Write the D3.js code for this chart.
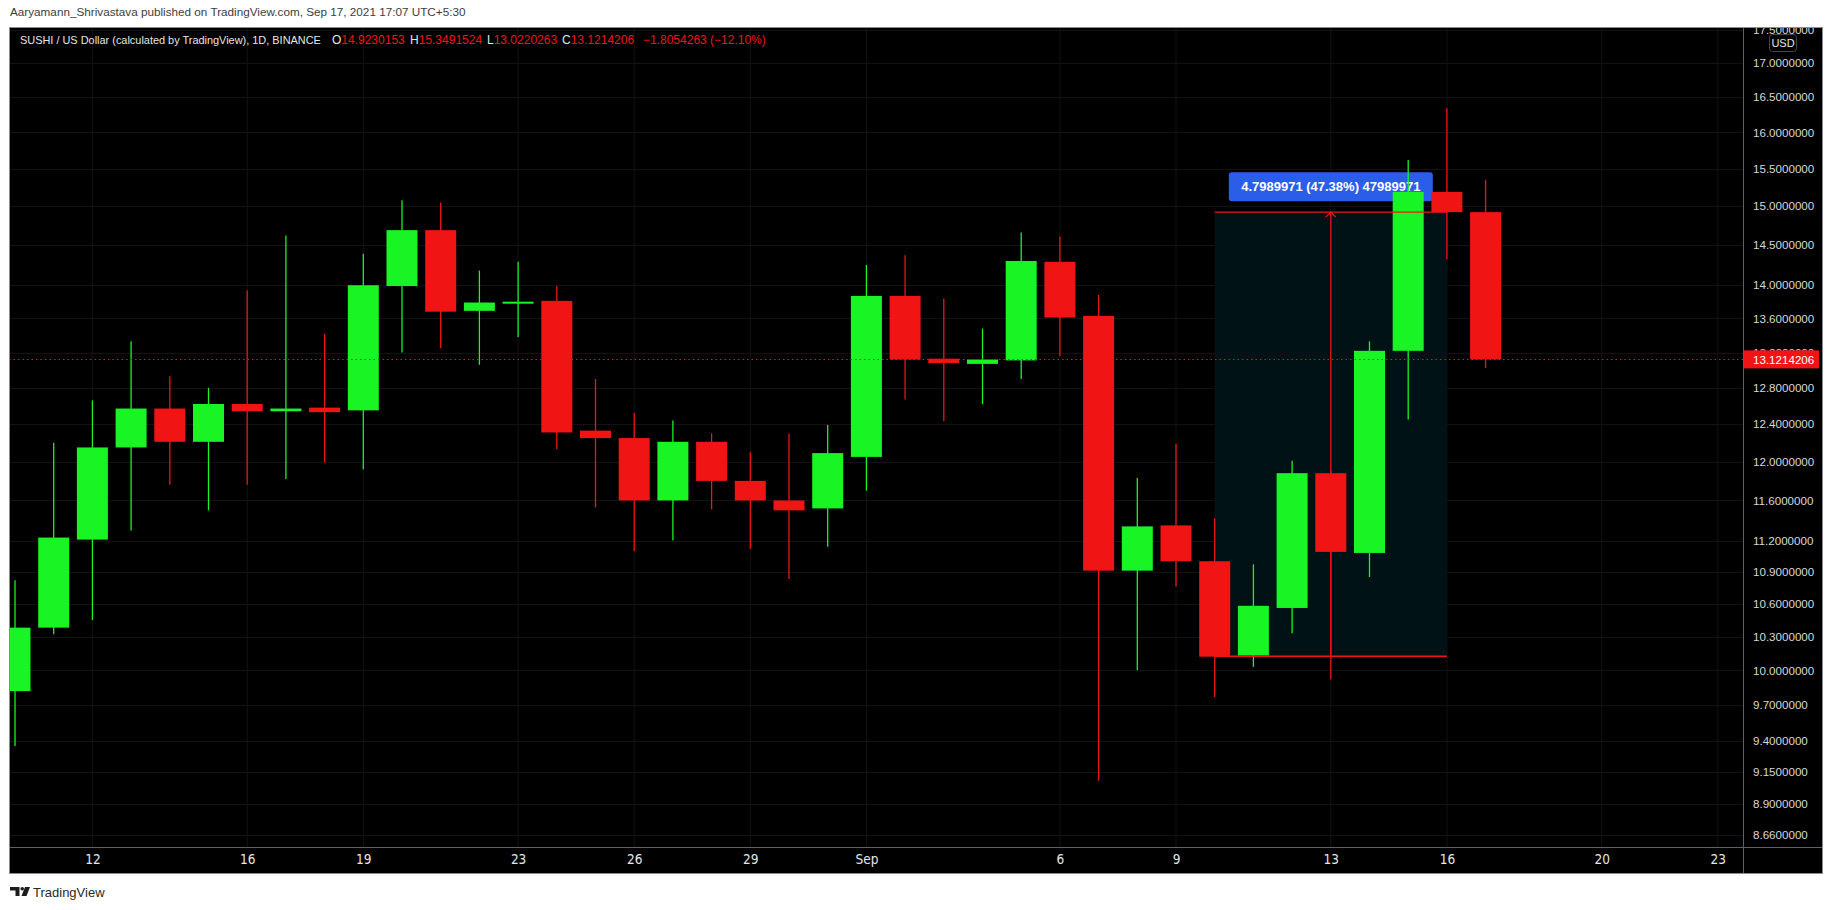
<!DOCTYPE html>
<html>
<head>
<meta charset="utf-8">
<script src="https://cdn.jsdelivr.net/npm/d3@7/dist/d3.min.js"></script>
<style>
  html, body { margin: 0; padding: 0; background: #ffffff; }
  svg { display: block; }
</style>
</head>
<body>
<svg id="chart" width="1834" height="910"></svg>
<script>
// ---------------- DATA ----------------
const dates = [
  "2021-08-10","2021-08-11","2021-08-12","2021-08-13","2021-08-14","2021-08-15","2021-08-16",
  "2021-08-17","2021-08-18","2021-08-19","2021-08-20","2021-08-21","2021-08-22","2021-08-23",
  "2021-08-24","2021-08-25","2021-08-26","2021-08-27","2021-08-28","2021-08-29","2021-08-30",
  "2021-08-31","2021-09-01","2021-09-02","2021-09-03","2021-09-04","2021-09-05","2021-09-06",
  "2021-09-07","2021-09-08","2021-09-09","2021-09-10","2021-09-11","2021-09-12","2021-09-13",
  "2021-09-14","2021-09-15","2021-09-16","2021-09-17"
];
const opens  = [9.82,10.38,11.21,12.15,12.57,12.21,12.62,12.54,12.58,12.55,13.99,14.69,13.69,13.78,
                13.81,12.33,12.25,11.60,12.21,11.80,11.60,11.52,12.05,13.87,13.13,13.07,13.11,14.29,
                13.63,10.91,11.35,11.00,10.13,10.56,11.88,11.08,13.22,15.19,14.9230153];
const highs  = [10.82,12.20,12.66,13.33,12.93,12.80,13.94,14.62,13.42,14.39,15.08,15.05,14.18,14.29,
                13.99,12.90,12.52,12.44,12.30,12.10,12.30,12.39,14.25,14.37,13.84,13.48,14.66,14.61,
                13.88,11.83,12.19,11.42,10.97,12.01,11.90,13.33,15.62,16.34,15.3491524];
const lows   = [9.36,10.32,10.45,11.30,11.76,11.50,11.76,11.82,11.99,11.92,13.20,13.25,13.06,13.38,
                12.13,11.53,11.10,11.20,11.51,11.12,10.83,11.14,11.70,12.67,12.43,12.62,12.90,13.16,
                9.08,10.00,10.76,9.77,10.03,10.33,9.92,10.85,12.45,14.32,13.0220263];
const closes = [10.38,11.23,12.15,12.57,12.21,12.62,12.54,12.57,12.53,14.00,14.69,13.68,13.79,13.80,
                12.31,12.25,11.60,12.21,11.80,11.60,11.50,12.09,13.87,13.12,13.08,13.12,14.30,13.61,
                10.91,11.34,11.00,10.12,10.58,11.88,11.09,13.22,15.19,14.923,13.1214206];

const yTicks = [17.5,17,16.5,16,15.5,15,14.5,14,13.6,13.2,12.8,12.4,12,11.6,11.2,10.9,10.6,10.3,10,9.7,9.4,9.15,8.9,8.66];
const xTickDates = ["2021-08-12","2021-08-16","2021-08-19","2021-08-23","2021-08-26","2021-08-29",
                    "2021-09-01","2021-09-06","2021-09-09","2021-09-13","2021-09-16","2021-09-20","2021-09-23"];
const xTickLabels = ["12","16","19","23","26","29","Sep","6","9","13","16","20","23"];

// measurement tool (date range + price range)
const measureDates = ["2021-09-10","2021-09-16"];
const measurePrices = [10.1240182, 14.9230153];
const measureText = "4.7989971 (47.38%) 47989971";

const publishedText = "Aaryamann_Shrivastava published on TradingView.com, Sep 17, 2021 17:07 UTC+5:30";
const titleText = "SUSHI / US Dollar (calculated by TradingView), 1D, BINANCE";
const ohlcLabels = ["O","H","L","C"];
const ohlcValues = ["14.9230153","15.3491524","13.0220263","13.1214206"];
const changeText = "\u22121.8054263 (\u221212.10%)";

// ---------------- LAYOUT ----------------
const GREEN = "#19f425", RED = "#f11414";
const FONT = "Liberation Sans, Arial, sans-serif";
const panel = {x0: 9, y0: 27, x1: 1823, y1: 874};
const plot = {x0: 9, y0: 27, x1: 1743, y1: 847};
const parse = s => new Date(s + "T00:00:00Z");

const svg = d3.select("#chart");
const defs = svg.append("defs");
defs.append("clipPath").attr("id","plotClip").append("rect")
  .attr("x", plot.x0).attr("y", plot.y0).attr("width", plot.x1 - plot.x0).attr("height", plot.y1 - plot.y0);
defs.append("clipPath").attr("id","yAxisClip").append("rect")
  .attr("x", plot.x1).attr("y", plot.y0).attr("width", panel.x1 - plot.x1).attr("height", plot.y1 - plot.y0);

const x = d3.scaleUtc().domain([parse("2021-08-12"), parse("2021-09-23")]).range([92.4, 1717.8]);
const y = d3.scaleLog().domain([8.66, 17]).range([835, 63]);
const bodyW = 31;

const candles = dates.map((d,i) => ({date: parse(d), o: opens[i], h: highs[i], l: lows[i], c: closes[i]}));

// reduce a text's font size until it fits a target width
function fitWidth(sel, w) {
  const fs = +sel.attr("font-size");
  const cur = sel.node().getComputedTextLength();
  if (cur > w) sel.attr("font-size", (fs * w / cur).toFixed(2));
  return sel;
}

// header (white area)
fitWidth(svg.append("text").attr("x", 10).attr("y", 16)
  .attr("font-family", FONT).attr("font-size", 12.5)
  .attr("fill", "#3d3d3d").text(publishedText), 456);

// panel background
svg.append("rect").attr("x", panel.x0).attr("y", panel.y0)
  .attr("width", panel.x1 - panel.x0).attr("height", panel.y1 - panel.y0).attr("fill", "#000");

const plotG = svg.append("g").attr("clip-path", "url(#plotClip)");

// grid
plotG.append("g").selectAll("line").data(xTickDates).join("line")
  .attr("x1", d => x(parse(d))).attr("x2", d => x(parse(d)))
  .attr("y1", plot.y0).attr("y2", plot.y1)
  .attr("stroke", "#121212").attr("stroke-width", 1);
plotG.append("g").selectAll("line").data(yTicks).join("line")
  .attr("x1", plot.x0).attr("x2", plot.x1)
  .attr("y1", d => Math.round(y(d)) + 0.5).attr("y2", d => Math.round(y(d)) + 0.5)
  .attr("stroke", "#121212").attr("stroke-width", 1);

// measurement rectangle
const mx0 = x(parse(measureDates[0])), mx1 = x(parse(measureDates[1]));
const myTop = y(measurePrices[1]), myBot = y(measurePrices[0]);
const mxc = (mx0 + mx1) / 2;
plotG.append("rect").attr("x", mx0).attr("y", myTop).attr("width", mx1 - mx0).attr("height", myBot - myTop)
  .attr("fill", "#011217");

// measurement label
const lblW = 204, lblH = 29;
const lblG = plotG.append("g");
lblG.append("rect").attr("x", mxc - lblW/2).attr("y", myTop - 40).attr("width", lblW).attr("height", lblH)
  .attr("rx", 3).attr("fill", "#2a5de8");
lblG.append("text").attr("x", mxc).attr("y", myTop - 40 + lblH/2 + 4.6)
  .attr("text-anchor", "middle").attr("font-family", FONT)
  .attr("font-weight", "bold").attr("font-size", 13).attr("fill", "#ffffff").text(measureText);

// candles
const cg = plotG.append("g");
cg.selectAll("line.wick").data(candles).join("line").attr("class","wick")
  .attr("x1", d => x(d.date)).attr("x2", d => x(d.date))
  .attr("y1", d => y(d.h)).attr("y2", d => y(d.l))
  .attr("stroke", d => d.c >= d.o ? GREEN : RED).attr("stroke-width", 1.3);
cg.selectAll("rect.body").data(candles).join("rect").attr("class","body")
  .attr("x", d => x(d.date) - bodyW/2).attr("width", bodyW)
  .attr("y", d => y(Math.max(d.o, d.c)))
  .attr("height", d => Math.max(2, y(Math.min(d.o, d.c)) - y(Math.max(d.o, d.c))))
  .attr("fill", d => d.c >= d.o ? GREEN : RED);

// measurement lines
const mg = plotG.append("g").attr("stroke", RED).attr("stroke-width", 1.3).attr("fill", "none");
mg.append("line").attr("x1", mx0).attr("x2", mx1).attr("y1", myTop).attr("y2", myTop);
mg.append("line").attr("x1", mx0).attr("x2", mx1).attr("y1", myBot).attr("y2", myBot);
mg.append("line").attr("x1", mxc).attr("x2", mxc).attr("y1", myBot).attr("y2", myTop);
mg.append("path").attr("d", `M${mxc-5},${myTop+5} L${mxc},${myTop} L${mxc+5},${myTop+5}`);

// current price dotted line
const last = candles[candles.length - 1];
plotG.append("line").attr("x1", plot.x0).attr("x2", plot.x1)
  .attr("y1", Math.round(y(last.c)) + 0.5).attr("y2", Math.round(y(last.c)) + 0.5)
  .attr("stroke", RED).attr("stroke-width", 1).attr("stroke-dasharray", "1.5,3");

// legend title
const lg = svg.append("g").attr("font-family", FONT);
fitWidth(lg.append("text").attr("x", 20).attr("y", 44).attr("font-size", 12)
  .attr("fill", "#e6e6e6").text(titleText), 301);
const segX = [332, 410, 487, 562];
ohlcLabels.forEach((lab, i) => {
  const t = lg.append("text").attr("x", segX[i]).attr("y", 44).attr("font-size", 12);
  t.append("tspan").attr("fill", "#e6e6e6").text(lab);
  t.append("tspan").attr("fill", RED).text(ohlcValues[i]);
});
lg.append("text").attr("x", 643).attr("y", 44).attr("font-size", 12).attr("fill", RED).text(changeText);

// y axis
const yAxisG = svg.append("g").attr("clip-path", "url(#yAxisClip)")
  .append("g").attr("transform", `translate(${plot.x1},0)`)
  .call(d3.axisRight(y).tickValues(yTicks).tickFormat(d => d.toFixed(7)).tickSize(0).tickPadding(10));
yAxisG.select(".domain").remove();
yAxisG.selectAll("text").attr("font-family", FONT)
  .attr("font-size", 11.6).attr("fill", "#d8d8d8");

// USD badge
svg.append("rect").attr("x", 1769.5).attr("y", 34.5).attr("width", 27).attr("height", 17).attr("rx", 3)
  .attr("fill", "#000").attr("stroke", "#434651");
svg.append("text").attr("x", 1783).attr("y", 47).attr("text-anchor", "middle")
  .attr("font-family", FONT).attr("font-size", 11).attr("fill", "#e6e6e6").text("USD");

// current price label
const lpY = y(last.c);
svg.append("rect").attr("x", plot.x1).attr("y", lpY - 9).attr("width", 76).attr("height", 18).attr("fill", RED);
svg.append("text").attr("x", plot.x1 + 10).attr("y", lpY + 4.2)
  .attr("font-family", FONT).attr("font-size", 11.6)
  .attr("fill", "#ffffff").text(last.c.toFixed(7));

// x axis
const xAxisG = svg.append("g").attr("transform", `translate(0,${plot.y1})`)
  .call(d3.axisBottom(x).tickValues(xTickDates.map(parse))
    .tickFormat((d, i) => xTickLabels[i]).tickSize(0).tickPadding(7));
xAxisG.select(".domain").remove();
xAxisG.selectAll("text").attr("font-family", "Liberation Sans Narrow, DejaVu Sans Condensed, sans-serif")
  .attr("font-size", 13.5).attr("fill", "#e6e6e6");

// borders / dividers
const bg = svg.append("g").attr("stroke", "#5d606b").attr("stroke-width", 1).attr("fill", "none");
bg.append("line").attr("x1", panel.x0).attr("x2", panel.x1).attr("y1", plot.y1 + 0.5).attr("y2", plot.y1 + 0.5);
bg.append("line").attr("x1", plot.x1 + 0.5).attr("x2", plot.x1 + 0.5).attr("y1", panel.y0).attr("y2", panel.y1);
bg.append("rect").attr("x", panel.x0 + 0.5).attr("y", panel.y0 + 0.5)
  .attr("width", panel.x1 - panel.x0 - 1).attr("height", panel.y1 - panel.y0 - 1).attr("stroke", "#8a8d96");

// bottom TradingView logo
const logo = svg.append("g").attr("fill", "#1c1c1c");
logo.append("path").attr("d", "M10,887 H19.5 V896 H15.5 V890.5 H10 Z");
logo.append("circle").attr("cx", 22.2).attr("cy", 888.8).attr("r", 1.8);
logo.append("path").attr("d", "M25,887 H30 L26.5,896 H21.5 Z");
svg.append("text").attr("x", 33).attr("y", 896.5)
  .attr("font-family", FONT).attr("font-size", 13)
  .attr("fill", "#2a2a2a").text("TradingView");
</script>
</body>
</html>
